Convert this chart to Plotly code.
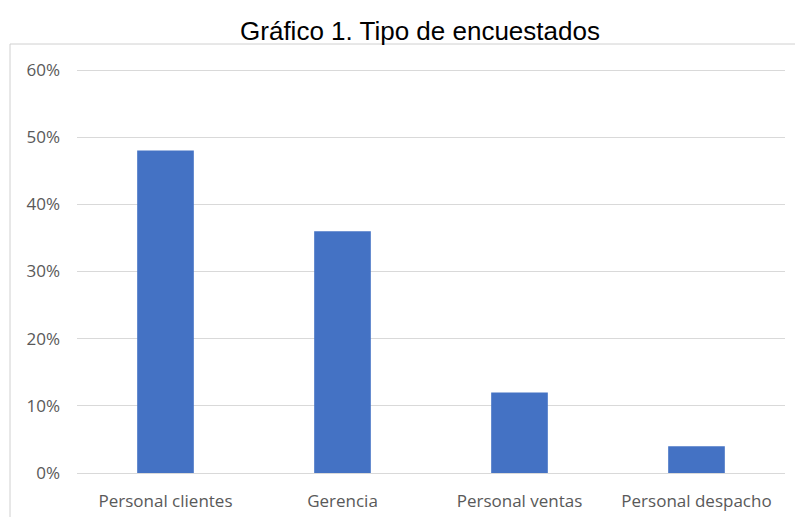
import plotly.graph_objects as go

categories = ["Personal clientes", "Gerencia", "Personal ventas", "Personal despacho"]
values = [0.48, 0.36, 0.12, 0.04]
y_ticks = [0, 0.1, 0.2, 0.3, 0.4, 0.5, 0.6]
y_tick_labels = ["0%", "10%", "20%", "30%", "40%", "50%", "60%"]
title_text = "Gráfico 1. Tipo de encuestados"

W, H = 795, 517
ml, mr, mt, mb = 77, 10, 69, 44
pw = W - ml - mr
ph = H - mt - mb

fig = go.Figure(go.Bar(
    x=categories, y=values,
    marker=dict(color="#4472C4", line=dict(width=0)),
    width=0.32,
))

def px_to_paper_x(px):
    return (px - ml) / pw

def px_to_paper_y(py):
    return (H - mb - py) / ph

fig.add_shape(type="rect", xref="paper", yref="paper",
              x0=px_to_paper_x(10), x1=px_to_paper_x(805),
              y0=px_to_paper_y(530), y1=px_to_paper_y(44),
              line=dict(color="#d0d0d0", width=1), fillcolor="rgba(0,0,0,0)", layer="below")

fig.update_layout(
    width=W, height=H,
    margin=dict(l=ml, r=mr, t=mt, b=mb, autoexpand=False),
    paper_bgcolor="white", plot_bgcolor="white",
    showlegend=False,
    title=dict(text=title_text, x=420 / W, xanchor="center", y=1 - 31 / H, yanchor="middle",
               font=dict(family="Liberation Sans, Arial", size=26, color="#000000")),
    font=dict(family="Open Sans, Liberation Sans", size=16, color="#595959"),
    bargap=0.68,
)
fig.update_yaxes(range=[0, 0.6015], tickvals=y_ticks, ticktext=y_tick_labels,
                 showgrid=True, gridcolor="#d9d9d9", gridwidth=1, zeroline=False,
                 showline=False, ticks="", ticklabelstandoff=16, automargin=False,
                 tickfont=dict(size=17, color="#595959"))
fig.update_xaxes(showgrid=False, showline=True, linecolor="#d9d9d9", linewidth=1,
                 ticks="", ticklabelstandoff=13, automargin=False,
                 tickfont=dict(size=17, color="#595959"))

fig.write_html("out.html")
